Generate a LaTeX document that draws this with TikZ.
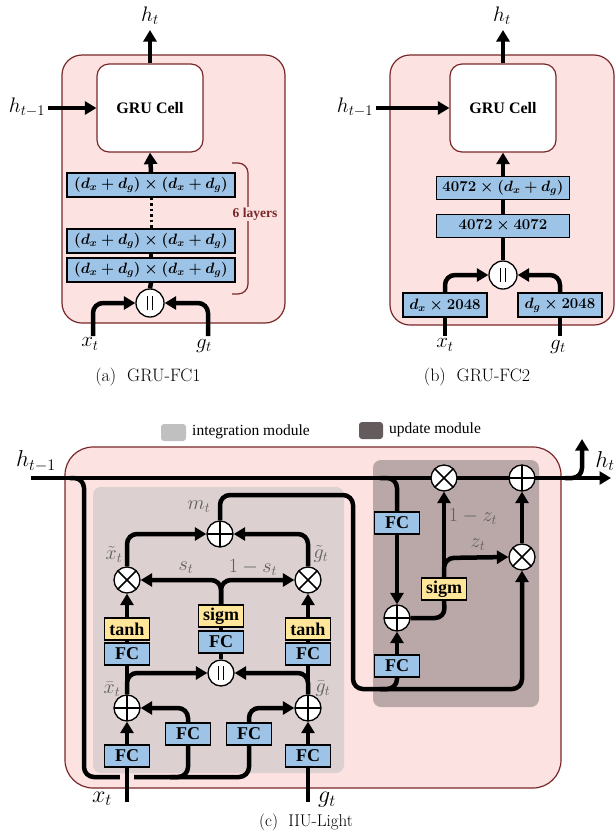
\RequirePackage{fix-cm}
\documentclass[tikz,border=0pt]{standalone}
\usepackage[no-math]{fontspec}
\newfontfamily\tnr{Liberation Serif}
\usetikzlibrary{arrows.meta}
\newcommand{\setfs}[1]{\fontsize{#1}{#1}\selectfont}
\newcommand{\bmath}[1]{\mbox{\boldmath$#1$}}
\definecolor{pinkbg}{RGB}{253,226,226}
\definecolor{boxred}{RGB}{120,40,40}
\definecolor{fcblue}{RGB}{157,195,230}
\definecolor{actyellow}{RGB}{255,230,153}
\definecolor{lblgray}{RGB}{95,95,95}
\definecolor{intgray}{RGB}{220,208,208}
\definecolor{updgray}{RGB}{186,168,168}
\definecolor{legint}{RGB}{192,192,192}
\definecolor{legupd}{RGB}{100,92,92}
\pgfdeclarelayer{bg}
\pgfdeclarelayer{lines}
\pgfsetlayers{bg,lines,main}
\tikzset{
  conn/.style={line width=4.5pt, rounded corners=10pt},
  arr/.style={conn, -{Triangle[length=11.5pt,width=13pt]}},
  dotline/.style={line width=3pt, dash pattern=on 2.5pt off 3pt},
  panel/.style={fill=pinkbg, draw=boxred, line width=1.2pt},
  gru/.style={draw=boxred, line width=1.2pt, fill=white, rounded corners=12pt,
    minimum width=106pt, minimum height=88pt, font=\tnr\bfseries\setfs{16}},
  fcwide/.style={draw=black, line width=1.3pt, fill=fcblue, inner sep=0pt,
    minimum height=24pt, font=\setfs{15}},
  fc/.style={draw=black, line width=1.3pt, fill=fcblue, inner sep=0pt,
    minimum width=45pt, minimum height=22pt, font=\tnr\bfseries\setfs{18}},
  act/.style={fc, fill=actyellow},
  opnode/.style={circle, draw=black, line width=1.3pt, fill=white,
    minimum size=26pt, inner sep=0pt},
  oplus/.style={opnode, path picture={\draw[line width=1.6pt]
    (path picture bounding box.north) -- (path picture bounding box.south)
    (path picture bounding box.west) -- (path picture bounding box.east);}},
  otimes/.style={opnode, path picture={\draw[line width=1.6pt]
    (path picture bounding box.north west) -- (path picture bounding box.south east)
    (path picture bounding box.north east) -- (path picture bounding box.south west);}},
  ocat/.style={opnode, path picture={\draw[line width=1.4pt]
    ([xshift=-2.5pt,yshift=-7pt]path picture bounding box.center) -- ([xshift=-2.5pt,yshift=7pt]path picture bounding box.center)
    ([xshift=2.5pt,yshift=-7pt]path picture bounding box.center) -- ([xshift=2.5pt,yshift=7pt]path picture bounding box.center);}},
  mlbl/.style={inner sep=0pt, font=\setfs{21}},
  glbl/.style={inner sep=0pt, font=\setfs{20}, text=lblgray},
  captxt/.style={inner sep=0pt, font=\setfs{18}},
}
\begin{document}
\begin{tikzpicture}[x=1pt,y=-1pt]
\useasboundingbox (0,0) rectangle (616,831);

% ---------------- panel backgrounds ----------------
\begin{pgfonlayer}{bg}
  \path[panel, rounded corners=20pt] (62,55) rectangle (285,323);
  \path[panel, rounded corners=20pt] (390,55) rectangle (614,325);
  \path[panel, rounded corners=28pt] (65,447) rectangle (561,788);
  \fill[intgray, rounded corners=8pt] (93,487) rectangle (344,773);
  \fill[updgray, rounded corners=8pt] (373,460) rectangle (539,707);
\end{pgfonlayer}

% ================= (a) GRU-FC1 =================
\node[gru] (gruA) at (150,108) {GRU Cell};
\node[fcwide, minimum width=168pt] (a1) at (151,185) {\bmath{(d_x+d_g)\times(d_x+d_g)}};
\node[fcwide, minimum width=168pt] (a2) at (151,241) {\bmath{(d_x+d_g)\times(d_x+d_g)}};
\node[fcwide, minimum width=168pt] (a3) at (151,270) {\bmath{(d_x+d_g)\times(d_x+d_g)}};
\node[ocat, minimum size=28pt] (catA) at (150,303) {};
\coordinate (hinA) at (48,108);
\coordinate (houtA) at (150,30);
\coordinate (xinA) at (93,336);
\coordinate (ginA) at (208,336);
\node[mlbl] (htA) at (150,16) {$h_t$};
\node[mlbl] (hpA) at (27,107) {$h_{t-1}$};
\node[mlbl] (xtA) at (90,344) {$x_t$};
\node[mlbl] (gtA) at (204,346) {$g_t$};
\node[inner sep=1pt, fill=pinkbg, text=boxred, font=\tnr\bfseries\setfs{13.5}] (layA) at (255,214) {6 layers};
\node[captxt] (capA) at (148,377) {(a)\ \ GRU-FC1};

\begin{pgfonlayer}{lines}
  \draw[arr] (hinA) -- (gruA.west);
  \draw[arr] (gruA.north) -- (houtA);
  \draw[arr] (a1.north) -- (gruA.south);
  \draw[dotline] (a1.south) -- (a2.north);
  \draw[conn] (a2.south) -- (a3.north);
  \draw[conn] (a3.south) -- (catA.north);
  \draw[arr] (xinA) -- (93,303) -- (catA.west);
  \draw[arr] (ginA) -- (208,303) -- (catA.east);
  \draw[boxred, line width=1.2pt, rounded corners=10pt] (232,163) -- (248,163) -- (248,294) -- (232,294);
\end{pgfonlayer}

% ================= (b) GRU-FC2 =================
\node[gru] (gruB) at (503,108) {GRU Cell};
\node[fcwide, minimum width=133pt, minimum height=23pt] (b1) at (503,188) {\bmath{4072\times(d_x+d_g)}};
\node[fcwide, minimum width=133pt, minimum height=23pt] (b2) at (503,226) {\bmath{4072\times4072}};
\node[ocat, minimum size=28pt] (catB) at (503,275) {};
\node[fcwide, minimum width=84pt] (bx) at (445,305) {\bmath{d_x\times2048}};
\node[fcwide, minimum width=84pt] (bg) at (560,305) {\bmath{d_g\times2048}};
\coordinate (hinB) at (376,108);
\coordinate (houtB) at (503,30);
\coordinate (xinB) at (445,336);
\coordinate (ginB) at (560,336);
\node[mlbl] (htB) at (502,16) {$h_t$};
\node[mlbl] (hpB) at (355,107) {$h_{t-1}$};
\node[mlbl] (xtB) at (445,345) {$x_t$};
\node[mlbl] (gtB) at (558,347) {$g_t$};
\node[captxt] (capB) at (477,377) {(b)\ \ GRU-FC2};

\begin{pgfonlayer}{lines}
  \draw[arr] (hinB) -- (gruB.west);
  \draw[arr] (gruB.north) -- (houtB);
  \draw[arr] (b1.north) -- (gruB.south);
  \draw[conn] (b2.north) -- (b1.south);
  \draw[conn] (catB.north) -- (b2.south);
  \draw[arr] (bx.north) -- (445,275) -- (catB.west);
  \draw[arr] (bg.north) -- (560,275) -- (catB.east);
  \draw[conn] (xinB) -- (bx.south);
  \draw[conn] (ginB) -- (bg.south);
\end{pgfonlayer}

% ================= (c) IIU-Light =================
% legend
\fill[legint, rounded corners=3pt] (161,424) rectangle (186,441);
\node[anchor=west, inner sep=0pt, font=\tnr\setfs{15.5}] (legI) at (192,432) {integration module};
\fill[legupd, rounded corners=3pt] (359,422) rectangle (383,439);
\node[anchor=west, inner sep=0pt, font=\tnr\setfs{15.5}] (legU) at (389,430) {update module};

% integration module
\node[fc] (fcX) at (127,756) {FC};
\node[fc] (fcG) at (308,756) {FC};
\node[fc] (fcM1) at (188,734) {FC};
\node[fc] (fcM2) at (249,734) {FC};
\node[oplus] (plX) at (127,708) {};
\node[oplus] (plG) at (308,708) {};
\node[ocat] (catC) at (221,673) {};
\node[fc] (fcXa) at (127,654) {FC};
\node[act] (tanhX) at (127,629) {tanh};
\node[fc] (fcGa) at (308,654) {FC};
\node[act] (tanhG) at (308,629) {tanh};
\node[fc] (fcS) at (221,642) {FC};
\node[act] (sigmC) at (221,616) {sigm};
\node[otimes] (otX) at (127,580) {};
\node[otimes] (otG) at (308,580) {};
\node[oplus] (plM) at (220,534) {};

% update module
\node[fc] (fcU1) at (397,523) {FC};
\node[oplus] (plU) at (397,618) {};
\node[fc] (fcU2) at (397,666) {FC};
\node[act] (sigmU) at (444,589) {sigm};
\node[otimes] (otH) at (444,478) {};
\node[oplus] (plH) at (522,478) {};
\node[otimes] (otZ) at (522,557) {};

% free ends
\coordinate (hinC) at (31,478);
\coordinate (houtC) at (611,478);
\coordinate (hupC) at (582,439);
\coordinate (xinC) at (127,802);
\coordinate (ginC) at (308,802);

% labels
\node[mlbl, font=\setfs{23}] (hpC) at (36,461) {$h_{t-1}$};
\node[mlbl, font=\setfs{23}] (htC) at (605,461) {$h_t$};
\node[mlbl, font=\setfs{24}] (xtC) at (102,799) {$x_t$};
\node[mlbl, font=\setfs{24}] (gtC) at (327,800) {$g_t$};
\node[glbl] (lxb) at (112,689) {$\bar{x}_t$};
\node[glbl] (lgb) at (323,689) {$\bar{g}_t$};
\node[glbl] (lxt) at (114,554) {$\tilde{x}_t$};
\node[glbl] (lgt) at (321,554) {$\tilde{g}_t$};
\node[glbl] (ls) at (186,568) {$s_t$};
\node[glbl] (l1s) at (253,568) {$1-s_t$};
\node[glbl] (lm) at (199,507) {$m_t$};
\node[glbl] (l1z) at (473,517) {$1-z_t$};
\node[glbl] (lz) at (478,545) {$z_t$};
\node[captxt, font=\setfs{17}] (capC) at (306,822.5) {(c)\ \ IIU-Light};

\begin{pgfonlayer}{lines}
  % hidden-state highway with outputs
  \draw[arr] (hinC) -- (houtC);
  \draw[arr] (565,478) -- (582,478) -- (hupC);
  % h_{t-1} into the integration module
  \draw[conn] (70,478) -- (84,478) -- (84,777) -- (249,777) -- (fcM2.south);
  \draw[conn] (170,777) -- (188,777) -- (fcM1.south);
  \draw[pinkbg, line width=7pt] (120,777) -- (134,777);
  % inputs
  \draw[conn] (xinC) -- (fcX.south);
  \draw[conn] (ginC) -- (fcG.south);
  \draw[arr] (fcX.north) -- (plX.south);
  \draw[arr] (fcG.north) -- (plG.south);
  \draw[arr] (fcM1.north) -- (188,708) -- (plX.east);
  \draw[arr] (fcM2.north) -- (249,708) -- (plG.west);
  % features to gate and transforms
  \draw[conn] (plX.north) -- (fcXa.south);
  \draw[conn] (plG.north) -- (fcGa.south);
  \draw[arr] (plX.north) -- (127,673) -- (catC.west);
  \draw[arr] (plG.north) -- (308,673) -- (catC.east);
  \draw[conn] (catC.north) -- (fcS.south);
  \draw[conn] (fcS.north) -- (sigmC.south);
  \draw[conn] (fcXa.north) -- (tanhX.south);
  \draw[conn] (fcGa.north) -- (tanhG.south);
  \draw[arr] (tanhX.north) -- (otX.south);
  \draw[arr] (tanhG.north) -- (otG.south);
  \draw[arr] (sigmC.north) -- (221,580) -- (otX.east);
  \draw[arr] (sigmC.north) -- (221,580) -- (otG.west);
  \draw[arr] (otX.north) -- (127,534) -- (plM.west);
  \draw[arr] (otG.north) -- (308,534) -- (plM.east);
  % fused feature to the update module
  \draw[arr] (plM.north) -- (220,495) -- (353,495) -- (353,689) -- (522,689) -- (otZ.south);
  \draw[conn] (380,689) -- (397,689) -- (fcU2.south);
  \draw[arr] (fcU2.north) -- (plU.south);
  \draw[conn] (380,478) -- (397,478) -- (fcU1.north);
  \draw[arr] (fcU1.south) -- (plU.north);
  \draw[conn] (plU.east) -- (445,618) -- (sigmU.south);
  \draw[arr] (sigmU.north) -- (otH.south);
  \draw[arr] (sigmU.north) -- (444,558) -- (otZ.west);
  \draw[arr] (otZ.north) -- (plH.south);
\end{pgfonlayer}
\end{tikzpicture}
\end{document}
